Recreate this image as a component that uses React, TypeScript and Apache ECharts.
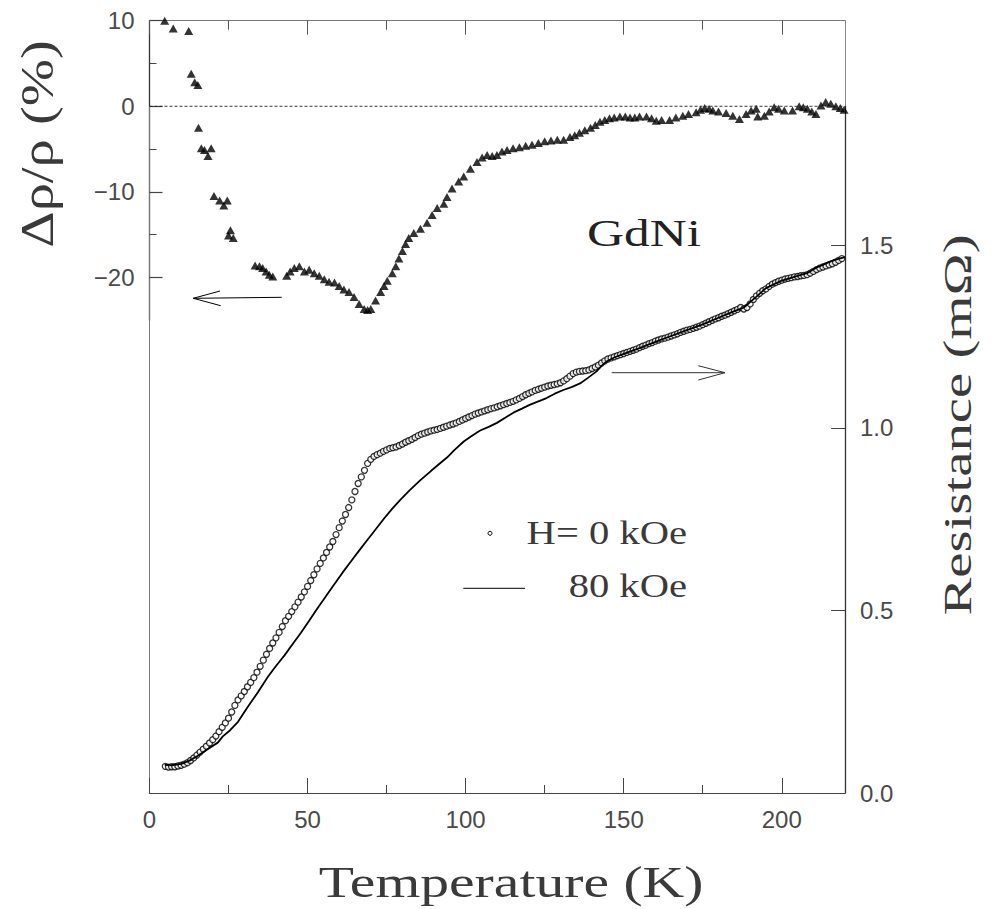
import React, { useEffect, useRef } from 'react';
import * as echarts from 'echarts';

// ---------- data ----------
const xMajorTicks = [0, 50, 100, 150, 200];
const xMinorTicks = [25, 75, 125, 175];
const deltaMajorTicks = [-20, -10, 0, 10];
const deltaMinorTicks = [-15, -5, 5];
const resistanceTicks = [0, 0.5, 1.0, 1.5];

// Δρ/ρ (%) vs T (K), triangles
const magnetoresistance: number[][] = [
  [4.8, 10.0], [7.5, 9.1], [12.4, 8.8], [13.2, 3.8], [14.3, 2.8], [15.3, 2.5],
  [15.5, -2.5], [16.4, -4.9], [17.4, -5.1], [18.5, -5.8], [19.5, -4.9],
  [20.4, -10.5], [22.2, -11.0], [23.5, -11.6], [24.6, -11.0], [25.0, -15.1],
  [25.6, -14.5], [26.5, -15.4],
  [33.4, -18.6], [34.8, -18.7], [35.8, -18.9], [36.9, -19.3], [37.9, -19.7], [39.0, -19.9],
  [43.4, -19.8], [44.5, -19.3], [45.8, -18.9], [47.4, -18.7], [49.0, -19.3], [50.5, -19.1],
  [52.1, -19.5], [53.7, -19.8], [55.3, -20.2], [56.8, -20.5], [58.5, -20.6], [60.0, -21.0],
  [61.5, -21.4], [63.1, -21.7], [64.7, -22.3], [66.3, -23.1], [67.9, -23.7], [69.0, -23.8],
  [70.0, -23.7], [71.5, -22.7], [73.1, -21.7], [74.2, -21.0], [75.2, -20.4], [76.8, -19.5],
  [77.9, -18.7], [78.9, -17.8], [80.0, -16.9], [81.0, -16.1], [82.0, -15.4], [83.6, -14.8],
  [85.7, -14.3], [87.8, -13.6], [89.4, -12.7], [91.0, -11.9], [93.1, -11.4], [94.1, -10.6],
  [95.7, -9.6], [97.8, -8.8], [99.4, -8.2], [101.5, -7.3], [103.6, -6.5], [105.2, -6.0],
  [106.8, -5.7], [108.4, -5.8], [109.9, -5.7], [111.5, -5.3], [113.1, -5.1], [115.0, -4.9],
  [117.0, -4.8], [119.0, -4.6], [121.0, -4.5], [123.0, -4.3], [125.0, -4.1], [127.0, -4.0],
  [129.0, -3.9], [131.0, -3.9], [133.0, -3.6], [134.5, -3.4], [136.0, -3.1], [137.7, -2.8],
  [139.5, -2.5], [141.0, -2.2], [142.5, -1.8], [144.0, -1.6], [145.5, -1.4], [147.0, -1.3],
  [148.8, -1.2], [150.5, -1.2], [152.0, -1.3], [153.5, -1.3], [155.0, -1.2], [157.2, -1.2],
  [158.8, -1.4], [160.3, -1.7], [162.0, -1.6], [164.5, -1.6], [166.5, -1.3], [168.7, -1.1],
  [170.5, -0.9], [172.9, -0.7], [174.3, -0.4], [175.6, -0.2], [177.0, -0.3], [178.2, -0.5],
  [180.0, -0.6], [182.4, -0.8], [184.5, -1.1], [186.6, -1.5], [188.7, -0.9], [190.3, -0.5],
  [191.9, -0.3], [192.4, -1.2], [194.5, -1.1], [196.0, -0.6], [197.6, -0.1], [199.0, -0.3],
  [200.8, -0.5], [203.4, -0.5], [205.5, 0.0], [206.8, -0.1], [208.1, -0.3], [209.5, -0.6],
  [210.8, -0.9], [212.4, 0.1], [213.9, 0.5], [215.5, 0.3], [217.1, 0.0], [218.5, -0.2],
  [219.7, -0.4],
];

// Resistance (mΩ) vs T (K), H = 0 kOe (open circles)
const resistanceH0: number[][] = [
  [5, 0.073], [6, 0.071], [7, 0.072], [8, 0.072], [9, 0.074], [10, 0.076], [11, 0.079],
  [12, 0.083], [13, 0.089], [14, 0.096], [15, 0.104], [16, 0.112], [17, 0.120], [18, 0.128],
  [19, 0.137], [20, 0.146], [21, 0.156], [22, 0.168], [23, 0.180], [24, 0.192], [25, 0.205],
  [26, 0.222], [27, 0.240], [28, 0.255], [29, 0.266], [30, 0.278], [31, 0.291], [32, 0.303],
  [33, 0.316], [34, 0.331], [35, 0.347], [36, 0.364], [37, 0.380], [38, 0.396], [39, 0.411],
  [40, 0.425], [41, 0.440], [42, 0.456], [43, 0.472], [44, 0.484], [45, 0.497], [46, 0.510],
  [47, 0.523], [48, 0.537], [49, 0.551], [50, 0.566], [51, 0.582], [52, 0.598], [53, 0.614],
  [54, 0.629], [55, 0.644], [56, 0.659], [57, 0.674], [58, 0.689], [59, 0.708], [60, 0.727],
  [61, 0.745], [62, 0.763], [63, 0.782], [64, 0.803], [65, 0.826], [66, 0.848], [67, 0.866],
  [68, 0.884], [69, 0.903], [70, 0.914], [71, 0.922], [72, 0.927], [73, 0.931], [74, 0.936],
  [75, 0.940], [76, 0.944], [77, 0.946], [78, 0.948], [79, 0.952], [80, 0.956], [81, 0.961],
  [82, 0.965], [83, 0.969], [84, 0.974], [85, 0.979], [86, 0.983], [87, 0.986], [88, 0.989],
  [89, 0.992], [90, 0.994], [91, 0.996], [92, 0.999], [93, 1.002], [94, 1.005], [95, 1.008],
  [96, 1.011], [97, 1.014], [98, 1.018], [99, 1.022], [100, 1.026], [101, 1.030], [102, 1.034],
  [103, 1.038], [104, 1.041], [105, 1.044], [106, 1.047], [107, 1.050], [108, 1.053],
  [109, 1.055], [110, 1.058], [111, 1.061], [112, 1.064], [113, 1.067], [114, 1.070],
  [115, 1.073], [116, 1.077], [117, 1.081], [118, 1.086], [119, 1.091], [120, 1.095],
  [121, 1.099], [122, 1.103], [123, 1.106], [124, 1.109], [125, 1.112], [126, 1.115],
  [127, 1.117], [128, 1.119], [129, 1.121], [130, 1.124], [131, 1.129], [132, 1.135],
  [133, 1.142], [134, 1.149], [135, 1.153], [136, 1.155], [137, 1.156], [138, 1.157],
  [139, 1.159], [140, 1.163], [141, 1.167], [142, 1.172], [143, 1.178], [144, 1.184],
  [145, 1.189], [146, 1.192], [147, 1.195], [148, 1.198], [149, 1.201], [150, 1.204],
  [151, 1.207], [152, 1.210], [153, 1.213], [154, 1.216], [155, 1.220], [156, 1.224],
  [157, 1.227], [158, 1.231], [159, 1.234], [160, 1.238], [161, 1.241], [162, 1.244],
  [163, 1.246], [164, 1.249], [165, 1.252], [166, 1.255], [167, 1.258], [168, 1.262],
  [169, 1.265], [170, 1.268], [171, 1.270], [172, 1.273], [173, 1.276], [174, 1.279],
  [175, 1.283], [176, 1.287], [177, 1.291], [178, 1.295], [179, 1.299], [180, 1.302],
  [181, 1.306], [182, 1.309], [183, 1.313], [184, 1.317], [185, 1.321], [186, 1.325],
  [187, 1.330], [188, 1.326], [189, 1.330], [190, 1.340], [191, 1.352], [192, 1.362],
  [193, 1.369], [194, 1.376], [195, 1.381], [196, 1.388], [197, 1.394], [198, 1.398],
  [199, 1.402], [200, 1.405], [201, 1.408], [202, 1.410], [203, 1.412], [204, 1.414],
  [205, 1.415], [206, 1.417], [207, 1.418], [208, 1.420], [209, 1.424], [210, 1.429],
  [211, 1.434], [212, 1.438], [213, 1.441], [214, 1.444], [215, 1.447], [216, 1.450],
  [217, 1.454], [218, 1.459], [219, 1.464],
];

// Resistance (mΩ) vs T (K), H = 80 kOe (solid line)
const resistanceH80: number[][] = [
  [4.8, 0.077], [7.0, 0.076], [10.1, 0.080], [12.5, 0.088], [15.3, 0.102], [18.0, 0.118],
  [21.6, 0.138], [23.2, 0.155], [25.5, 0.172], [28.0, 0.195], [31.0, 0.235], [34.3, 0.276],
  [37.4, 0.318], [40.0, 0.348], [42.7, 0.377], [45.3, 0.408], [47.9, 0.439], [50.5, 0.472],
  [53.2, 0.507], [55.8, 0.539], [58.4, 0.571], [61.0, 0.603], [63.7, 0.634], [66.3, 0.664],
  [68.9, 0.693], [71.5, 0.722], [74.2, 0.752], [76.8, 0.779], [79.4, 0.804], [82.5, 0.831],
  [85.7, 0.857], [89.0, 0.882], [92.0, 0.904], [94.1, 0.919], [96.5, 0.940], [99.4, 0.963],
  [102.0, 0.979], [104.6, 0.993], [107.3, 1.003], [109.9, 1.014], [112.5, 1.028],
  [115.1, 1.042], [117.8, 1.053], [120.4, 1.064], [123.0, 1.073], [125.6, 1.082],
  [128.2, 1.094], [130.9, 1.104], [133.5, 1.112], [136.2, 1.122], [138.8, 1.138],
  [141.4, 1.155], [143.0, 1.170], [144.6, 1.182], [147.0, 1.193], [150.0, 1.203],
  [155.0, 1.219], [160.0, 1.236], [165.0, 1.252], [170.0, 1.268], [175.0, 1.284],
  [180.0, 1.302], [185.0, 1.320], [188.0, 1.330], [190.0, 1.345], [192.0, 1.360],
  [195.0, 1.383], [200.0, 1.404], [205.0, 1.417], [208.0, 1.424], [211.0, 1.440],
  [213.0, 1.447], [215.0, 1.455], [217.0, 1.461], [220.0, 1.468],
];

const zeroLine: number[][] = [[0, 0], [220, 0]];

// ---------- styling ----------
const SERIF = '"Liberation Serif", "Times New Roman", serif';
const SANS = '"Liberation Sans", Arial, sans-serif';
const INK = '#000';
const AXIS = '#444';
const TEXT = '#3a3a3a';
const TICK_FONT = { fontFamily: SANS, fontSize: 24, color: '#4a4a4a' };
const minus = (s: string) => s.replace('-', '\u2212');

const GRID_LEFT = 149.5;
const GRID_WIDTH = 695.5;
const TOP_GRID_TOP = 20.7;
const TOP_GRID_HEIGHT = 299.5;
const BOT_GRID_TOP = 106.4;
const BOT_GRID_HEIGHT = 686.6;
const RES_MAX = 1.881;

function App() {
  const ref = useRef<HTMLDivElement>(null);

  useEffect(() => {
    if (!ref.current) return;
    const chart = echarts.init(ref.current, undefined, { renderer: 'svg' });

    const hiddenLabel = { show: false };
    const noLine = { show: false, onZero: false };

    const option: any = {
      animation: false,
      backgroundColor: '#fff',
      grid: [
        { left: GRID_LEFT, top: TOP_GRID_TOP, width: GRID_WIDTH, height: TOP_GRID_HEIGHT },
        { left: GRID_LEFT, top: BOT_GRID_TOP, width: GRID_WIDTH, height: BOT_GRID_HEIGHT },
      ],
      xAxis: [
        {
          gridIndex: 0, type: 'value', position: 'top', min: 0, max: 220,
          axisLine: { show: true, onZero: false, lineStyle: { color: '#777', width: 1 } },
          axisTick: { show: true, inside: true, length: 14, customValues: xMajorTicks, lineStyle: { color: '#555' } },
          axisLabel: { ...hiddenLabel, customValues: xMajorTicks },
          splitLine: { show: false },
        },
        {
          gridIndex: 0, type: 'value', position: 'top', min: 0, max: 220,
          axisLine: noLine,
          axisTick: { show: true, inside: true, length: 9, customValues: xMinorTicks, lineStyle: { color: '#555' } },
          axisLabel: { ...hiddenLabel, customValues: xMinorTicks },
          splitLine: { show: false },
        },
        {
          gridIndex: 1, type: 'value', position: 'bottom', min: 0, max: 220,
          axisLine: { show: true, onZero: false, lineStyle: { color: AXIS, width: 1.2 } },
          axisTick: { show: true, inside: true, length: 15, customValues: xMajorTicks, lineStyle: { color: AXIS } },
          axisLabel: { show: true, customValues: xMajorTicks, margin: 14, ...TICK_FONT },
          splitLine: { show: false },
        },
        {
          gridIndex: 1, type: 'value', position: 'bottom', min: 0, max: 220,
          axisLine: noLine,
          axisTick: { show: true, inside: true, length: 8, customValues: xMinorTicks, lineStyle: { color: AXIS } },
          axisLabel: { ...hiddenLabel, customValues: xMinorTicks },
          splitLine: { show: false },
        },
      ],
      yAxis: [
        {
          gridIndex: 0, type: 'value', position: 'left', min: -25, max: 10,
          axisLine: { show: true, onZero: false, lineStyle: { color: '#333', width: 1.3 } },
          axisTick: { show: true, inside: true, length: 13, customValues: deltaMajorTicks, lineStyle: { color: '#444', width: 1.2 } },
          axisLabel: {
            show: true, customValues: deltaMajorTicks, margin: 15, ...TICK_FONT,
            formatter: (v: number) => minus(String(v)),
          },
          splitLine: { show: false },
        },
        {
          gridIndex: 0, type: 'value', position: 'left', min: -25, max: 10,
          axisLine: noLine,
          axisTick: { show: true, inside: true, length: 7, customValues: deltaMinorTicks, lineStyle: { color: '#444' } },
          axisLabel: { ...hiddenLabel, customValues: deltaMinorTicks },
          splitLine: { show: false },
        },
        {
          gridIndex: 0, type: 'value', position: 'right', min: -25, max: 10,
          axisLine: { show: true, onZero: false, lineStyle: { color: '#888', width: 1 } },
          axisTick: { show: false },
          axisLabel: hiddenLabel,
          splitLine: { show: false },
        },
        {
          gridIndex: 1, type: 'value', position: 'right', min: 0, max: RES_MAX,
          axisLine: { show: true, onZero: false, lineStyle: { color: '#333', width: 1.3 } },
          axisTick: { show: true, inside: true, length: 14, customValues: resistanceTicks, lineStyle: { color: AXIS } },
          axisLabel: {
            show: true, customValues: resistanceTicks, margin: 15, ...TICK_FONT,
            formatter: (v: number) => v.toFixed(1),
          },
          splitLine: { show: false },
        },
        {
          gridIndex: 1, type: 'value', position: 'left', min: 0, max: RES_MAX,
          axisLine: { show: true, onZero: false, lineStyle: { color: '#777', width: 1 } },
          axisTick: { show: false },
          axisLabel: hiddenLabel,
          splitLine: { show: false },
        },
      ],
      series: [
        {
          name: 'zero', type: 'line', xAxisIndex: 0, yAxisIndex: 0, data: zeroLine,
          showSymbol: false, symbol: 'none', silent: true,
          lineStyle: { color: '#222', width: 0.9, type: [3, 2] },
        },
        {
          name: 'Δρ/ρ', type: 'scatter', xAxisIndex: 0, yAxisIndex: 0, data: magnetoresistance,
          symbol: 'triangle', symbolSize: [9, 8], clip: false,
          itemStyle: { color: INK },
        },
        {
          name: '80 kOe', type: 'line', xAxisIndex: 2, yAxisIndex: 3, data: resistanceH80,
          showSymbol: false, symbol: 'none',
          lineStyle: { color: INK, width: 1.8 },
        },
        {
          name: 'H= 0 kOe', type: 'scatter', xAxisIndex: 2, yAxisIndex: 3, data: resistanceH0,
          symbol: 'circle', symbolSize: 6, clip: false,
          itemStyle: { color: '#fff', borderColor: INK, borderWidth: 1.3 },
        },
      ],
      graphic: [
        // axis names
        {
          type: 'text', x: 37, y: 144, rotation: Math.PI / 2, scaleX: 1.23,
          style: { text: 'Δρ/ρ (%)', font: `46px ${SERIF}`, fill: TEXT, align: 'center', verticalAlign: 'middle' },
        },
        {
          type: 'text', x: 958, y: 425, rotation: Math.PI / 2, scaleX: 1.42,
          style: { text: 'Resistance (mΩ)', font: `40px ${SERIF}`, fill: TEXT, align: 'center', verticalAlign: 'middle' },
        },
        {
          type: 'text', x: 511, y: 882, scaleX: 1.31,
          style: { text: 'Temperature (K)', font: `44px ${SERIF}`, fill: TEXT, align: 'center', verticalAlign: 'middle' },
        },
        // sample label
        {
          type: 'text', x: 644, y: 233, scaleX: 1.35,
          style: { text: 'GdNi', font: `38px ${SERIF}`, fill: '#222', align: 'center', verticalAlign: 'middle' },
        },
        // legend
        {
          type: 'circle', shape: { cx: 490, cy: 533.3, r: 2 },
          style: { fill: '#fff', stroke: INK, lineWidth: 1 },
        },
        {
          type: 'text', x: 687, y: 533, scaleX: 1.23,
          style: { text: 'H= 0 kOe', font: `33px ${SERIF}`, fill: TEXT, align: 'right', verticalAlign: 'middle' },
        },
        {
          type: 'line', shape: { x1: 463.3, y1: 588.3, x2: 525, y2: 588.3 },
          style: { stroke: '#333', lineWidth: 1.2 },
        },
        {
          type: 'text', x: 687, y: 586, scaleX: 1.23,
          style: { text: '80 kOe', font: `33px ${SERIF}`, fill: TEXT, align: 'right', verticalAlign: 'middle' },
        },
        // left arrow (points to Δρ/ρ axis)
        {
          type: 'line', shape: { x1: 281.7, y1: 297.3, x2: 193.3, y2: 298.3 },
          style: { stroke: INK, lineWidth: 1 },
        },
        {
          type: 'polyline', shape: { points: [[220, 291], [193.3, 298.3], [220.7, 305.7]] },
          style: { stroke: INK, lineWidth: 1, fill: 'none' },
        },
        // right arrow (points to Resistance axis)
        {
          type: 'line', shape: { x1: 611.7, y1: 372.7, x2: 725, y2: 372.7 },
          style: { stroke: '#333', lineWidth: 1 },
        },
        {
          type: 'polyline', shape: { points: [[698.3, 365.7], [725, 372.7], [698.3, 380]] },
          style: { stroke: '#333', lineWidth: 1, fill: 'none' },
        },
      ],
    };

    chart.setOption(option);
    return () => chart.dispose();
  }, []);

  return (
    <div
      ref={ref}
      style={{ position: 'fixed', left: 0, top: 0, width: 992, height: 909, background: '#fff' }}
    />
  );
}

export default App;
